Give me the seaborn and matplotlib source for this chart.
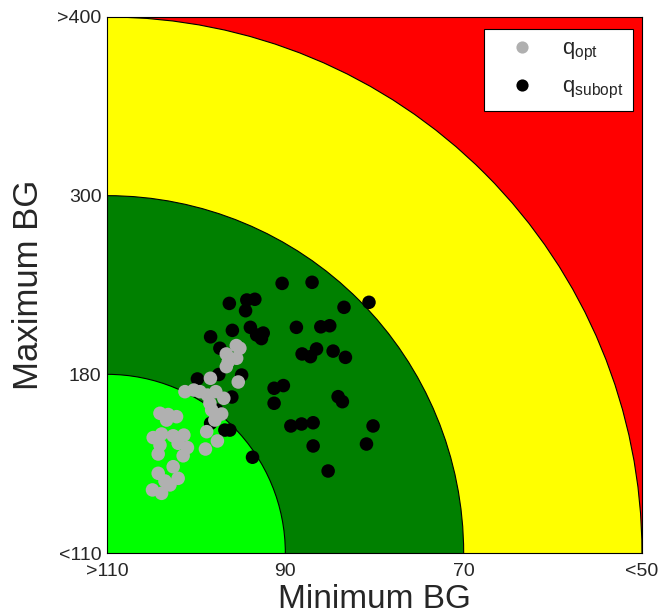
import matplotlib
matplotlib.use("Agg")
import matplotlib.pyplot as plt
from matplotlib.patches import Circle
import seaborn as sns
import pandas as pd

# grid coordinates: x 0..3 (>110, 90, 70, <50), y 0..3 (<110, 180, 300, >400)
x_ticks = [0, 1, 2, 3]
x_labels = [">110", "90", "70", "<50"]
y_ticks = [0, 1, 2, 3]
y_labels = ["<110", "180", "300", ">400"]
zone_radii = [3.0, 2.0, 1.0]
zone_colors = ["#ffff00", "#008000", "#00ff00"]

sub_x = [0.982, 1.150, 0.686, 0.784, 0.829, 0.777, 1.329, 1.469, 0.703, 0.581,
         0.804, 0.839, 0.876, 0.866, 1.062, 1.199, 1.249, 0.633, 1.094, 1.141,
         1.175, 1.268, 1.337, 0.507, 0.627, 0.755, 0.700, 0.937, 0.989, 0.937,
         1.296, 1.320, 0.581, 0.661, 0.689, 1.031, 1.091, 1.156, 1.492, 1.156,
         1.455, 0.816, 1.240, 0.615]
sub_y = [1.509, 1.515, 1.397, 1.416, 1.420, 1.356, 1.375, 1.403, 1.246, 1.210,
         1.263, 1.220, 1.231, 1.200, 1.263, 1.266, 1.272, 1.146, 1.114, 1.099,
         1.142, 1.130, 1.095, 0.974, 0.999, 0.996, 0.873, 0.922, 0.937, 0.838,
         0.875, 0.847, 0.726, 0.688, 0.688, 0.711, 0.722, 0.729, 0.711, 0.599,
         0.610, 0.536, 0.459, 0.800]

opt_x = [0.725, 0.745, 0.669, 0.727, 0.669, 0.680, 0.580, 0.736, 0.437, 0.487,
         0.521, 0.563, 0.610, 0.655, 0.577, 0.587, 0.643, 0.605, 0.297, 0.343,
         0.390, 0.334, 0.259, 0.306, 0.371, 0.431, 0.297, 0.399, 0.451, 0.427,
         0.287, 0.559, 0.619, 0.552, 0.371, 0.287, 0.325, 0.399, 0.255, 0.306,
         0.353]
opt_y = [1.161, 1.146, 1.114, 1.090, 1.043, 1.071, 0.978, 0.957, 0.903, 0.912,
         0.903, 0.884, 0.903, 0.866, 0.838, 0.800, 0.778, 0.744, 0.782, 0.775,
         0.763, 0.744, 0.646, 0.666, 0.656, 0.660, 0.604, 0.614, 0.590, 0.544,
         0.554, 0.679, 0.627, 0.582, 0.483, 0.446, 0.403, 0.418, 0.353, 0.334,
         0.381]

lab_opt = r"$\mathregular{q_{opt}}$"
lab_sub = r"$\mathregular{q_{subopt}}$"

df = pd.DataFrame({
    "Minimum BG": sub_x + opt_x,
    "Maximum BG": sub_y + opt_y,
    "group": [lab_sub] * len(sub_x) + [lab_opt] * len(opt_x),
})

sns.set_theme(style="white")
plt.rcParams["font.family"] = ["Liberation Sans", "DejaVu Sans"]

fig = plt.figure(figsize=(6.63, 6.15), dpi=100)
ax = fig.add_axes([0.1614, 0.1008, 0.8069, 0.8716])
ax.set_facecolor("#ff0000")

for r, c in zip(zone_radii, zone_colors):
    ax.add_patch(Circle((0, 0), r, facecolor=c, edgecolor="black", linewidth=0.8, zorder=1))

sns.scatterplot(data=df, x="Minimum BG", y="Maximum BG", hue="group",
                hue_order=[lab_opt, lab_sub],
                palette={lab_opt: "#b0b0b0", lab_sub: "black"},
                s=95, linewidth=0, ax=ax, zorder=3)

ax.set_xlim(0, 3)
ax.set_ylim(0, 3)
ax.set_xticks(x_ticks)
ax.set_xticklabels(x_labels, fontsize=14)
ax.set_yticks(y_ticks)
ax.set_yticklabels(y_labels, fontsize=14)
ax.tick_params(axis="x", length=0, pad=7)
ax.tick_params(axis="y", length=0, pad=4)
ax.set_xlabel("Minimum BG", fontsize=24, labelpad=3)
ax.set_ylabel("Maximum BG", fontsize=25, labelpad=9)
for sp in ax.spines.values():
    sp.set_color("black")
    sp.set_linewidth(0.8)

leg = ax.legend(loc="upper right", fontsize=16, frameon=True, fancybox=False,
                framealpha=1, edgecolor="black", borderpad=0.45, borderaxespad=0,
                handlelength=2.5, handletextpad=0.55, labelspacing=0.6,
                markerscale=0.9, bbox_to_anchor=(0.983, 0.978))
leg.get_frame().set_linewidth(0.8)

fig.savefig("out.png", dpi=100)
